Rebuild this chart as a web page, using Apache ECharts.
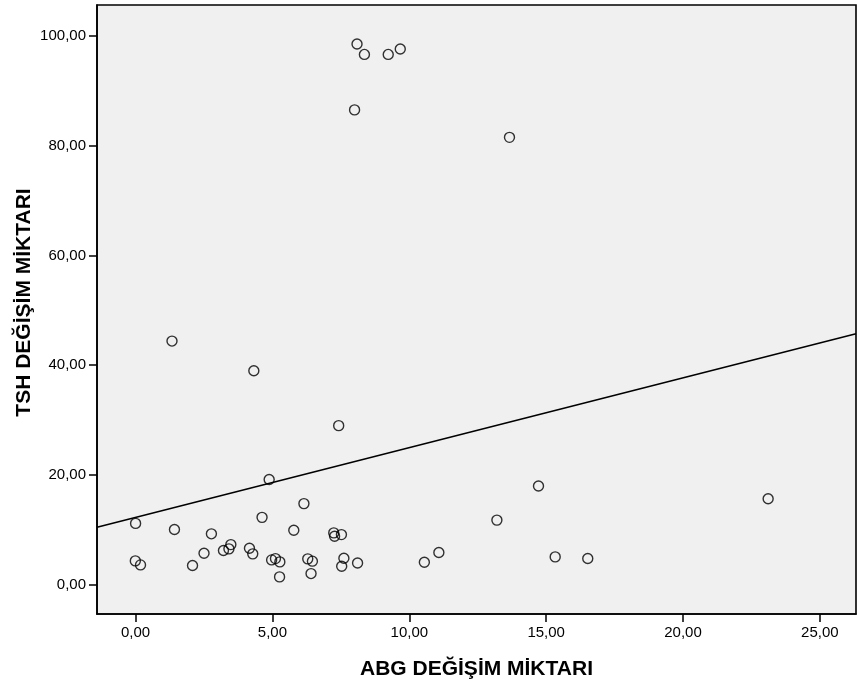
<!DOCTYPE html>
<html>
<head>
<meta charset="utf-8">
<script src="https://cdn.jsdelivr.net/npm/echarts@6/dist/echarts.min.js"></script>
<style>
  html, body { margin: 0; padding: 0; background: #fff; }
  #chart { width: 857px; height: 689px; }
</style>
</head>
<body>
<div id="chart"></div>
<script>
// ABG change (x) vs TSH change (y)
var abgValues = [8.09, 8.36, 9.23, 9.67, 8.0, 13.66, 1.33, 4.32, 7.42, 4.88,
  14.72, 23.11, 6.15, 4.62, 13.2, 0.0, 1.42, 5.78, 2.77, 7.24,
  7.27, 7.52, -0.01, 0.18, 2.08, 2.5, 3.21, 3.41, 3.48, 4.16,
  4.28, 4.97, 5.11, 5.27, 5.26, 6.29, 6.46, 6.41, 7.61, 7.53,
  8.11, 10.55, 11.08, 15.33, 16.52]
var tshValues = [98.5, 96.6, 96.6, 97.6, 86.5, 81.5, 44.4, 39.0, 29.0, 19.2,
  18.0, 15.7, 14.8, 12.3, 11.8, 11.2, 10.1, 9.96, 9.3, 9.47,
  8.87, 9.16, 4.37, 3.64, 3.52, 5.77, 6.25, 6.56, 7.34, 6.68,
  5.65, 4.55, 4.79, 4.19, 1.46, 4.74, 4.32, 2.06, 4.86, 3.4,
  4.0, 4.13, 5.89, 5.1, 4.8]

// fit line
var fitIntercept = 12.3
var fitSlope = 1.27

var xTicks = [0, 5, 10, 15, 20, 25]
var yTicks = [0, 20, 40, 60, 80, 100]
var xRange = [-1.41, 26.32]
var yRange = [-5.3, 105.6]

var chart = echarts.init(document.getElementById('chart'))

function fmt(v) {
  return v.toFixed(2).replace('.', ',')
}

var points = abgValues.map(function(x, i) { return [x, tshValues[i]] })
var fitLine = xRange.map(function(x) { return [x, fitIntercept + fitSlope * x] })

var option = {
  animation: false,
  textStyle: { fontFamily: 'Liberation Sans, Arial, sans-serif' },
  grid: {
    left: 97,
    right: 1,
    top: 5,
    bottom: 75,
    show: true,
    backgroundColor: '#f0f0f0',
    borderColor: '#000',
    borderWidth: 1.6
  },
  xAxis: {
    type: 'value',
    min: xRange[0],
    max: xRange[1],
    name: 'ABG DEĞİŞİM MİKTARI',
    nameLocation: 'middle',
    nameGap: 45,
    nameMoveOverlap: false,
    nameTextStyle: { fontSize: 21, fontWeight: 'bold', color: '#000' },
    splitLine: { show: false },
    axisLine: { show: true, onZero: false, lineStyle: { color: '#000', width: 1.6 } },
    axisTick: { show: true, length: 8, customValues: xTicks, lineStyle: { color: '#000', width: 1.5 } },
    axisLabel: { customValues: xTicks, formatter: fmt, fontSize: 15, color: '#000', margin: 11 }
  },
  yAxis: {
    type: 'value',
    min: yRange[0],
    max: yRange[1],
    name: 'TSH DEĞİŞİM MİKTARI',
    nameLocation: 'middle',
    nameGap: 62,
    nameMoveOverlap: false,
    nameTextStyle: { fontSize: 21, fontWeight: 'bold', color: '#000', padding: [0, 0, 0, 14] },
    splitLine: { show: false },
    axisLine: { show: true, onZero: false, lineStyle: { color: '#000', width: 1.6 } },
    axisTick: { show: true, length: 8, customValues: yTicks, lineStyle: { color: '#000', width: 1.5 } },
    axisLabel: { customValues: yTicks, formatter: fmt, fontSize: 15, color: '#000', margin: 11 }
  },
  series: [
    {
      type: 'line',
      data: fitLine,
      symbol: 'none',
      lineStyle: { color: '#000', width: 1.5 },
      silent: true
    },
    {
      type: 'scatter',
      data: points,
      symbol: 'circle',
      symbolSize: 10,
      itemStyle: { color: 'rgba(0,0,0,0)', borderColor: '#000', borderWidth: 1.4 }
    }
  ]
}

chart.setOption(option, true)
</script>
</body>
</html>
